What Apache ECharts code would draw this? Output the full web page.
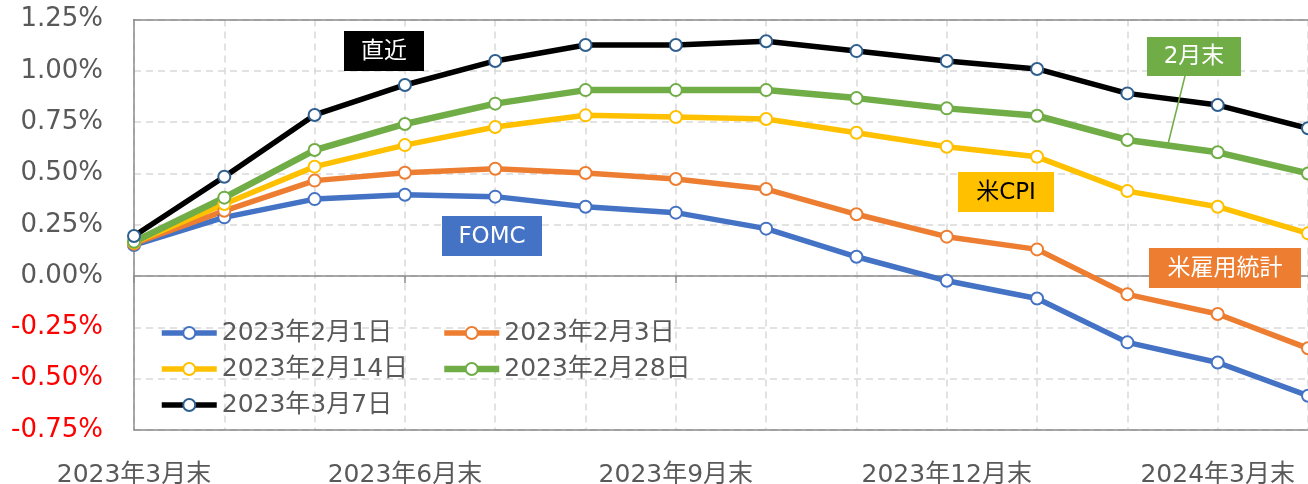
<!DOCTYPE html>
<html>
<head>
<meta charset="utf-8">
<script src="https://cdn.jsdelivr.net/npm/echarts@6/dist/echarts.min.js"></script>
<style>
  html, body { margin: 0; padding: 0; background: #fff; }
  #chart { width: 1308px; height: 484px; }
</style>
</head>
<body>
<div id="chart"></div>
<script>
// 月末ごとの政策金利変化の織り込み（%）
const months = [
  '2023年3月末', '2023年4月末', '2023年5月末', '2023年6月末', '2023年7月末',
  '2023年8月末', '2023年9月末', '2023年10月末', '2023年11月末', '2023年12月末',
  '2024年1月末', '2024年2月末', '2024年3月末', '2024年4月末'
]
const seriesNames = ['2023年2月1日', '2023年2月3日', '2023年2月14日', '2023年2月28日', '2023年3月7日']
const feb01 = [0.151, 0.286, 0.375, 0.396, 0.387, 0.338, 0.309, 0.231, 0.094, -0.023, -0.109, -0.323, -0.421, -0.583]
const feb03 = [0.158, 0.318, 0.465, 0.503, 0.523, 0.502, 0.473, 0.424, 0.301, 0.192, 0.130, -0.089, -0.185, -0.352]
const feb14 = [0.163, 0.351, 0.533, 0.638, 0.726, 0.783, 0.775, 0.765, 0.698, 0.630, 0.581, 0.414, 0.338, 0.208]
const feb28 = [0.167, 0.382, 0.614, 0.741, 0.840, 0.906, 0.906, 0.906, 0.867, 0.817, 0.781, 0.663, 0.603, 0.500]
const mar07 = [0.195, 0.484, 0.785, 0.931, 1.048, 1.126, 1.126, 1.144, 1.096, 1.048, 1.009, 0.890, 0.833, 0.720]
const yMin = -0.75, yMax = 1.25, yStep = 0.25

const FONT = '"DejaVu Sans", "Noto Sans CJK JP", sans-serif'
const GRAY = '#595959'
const AXIS = '#8c8c8c'
const COLORS = ['#4472c4', '#ed7d31', '#ffc000', '#70ad47', '#000000']
const WIDTHS = [5.5, 5.5, 5.5, 6.5, 5.5]
const BORDERS = ['#4472c4', '#ed7d31', '#ffc000', '#70ad47', '#2f5f8f']
const values = [feb01, feb03, feb14, feb28, mar07]

const chart = echarts.init(document.getElementById('chart'))

function mkSeries(i) {
  return {
    name: seriesNames[i], type: 'line', data: values[i],
    symbol: 'circle', symbolSize: 12,
    lineStyle: { width: WIDTHS[i], color: COLORS[i] },
    itemStyle: { color: '#fff', borderColor: BORDERS[i], borderWidth: 2 },
    emphasis: { disabled: true },
    z: 3
  }
}

function legendItem(i) {
  return {
    name: seriesNames[i],
    lineStyle: { width: WIDTHS[i], color: COLORS[i] },
    itemStyle: { color: '#fff', borderColor: BORDERS[i], borderWidth: 2 }
  }
}

// 注記ボックス
function note(x, y, w, h, text, bg, fg) {
  return {
    type: 'group', x, y,
    children: [
      { type: 'rect', z: 100, shape: { x: 0, y: 0, width: w, height: h }, style: { fill: bg } },
      { type: 'text', z: 101, x: w / 2, y: h / 2 + 1, style: { text, fill: fg, font: '23px ' + FONT, align: 'center', verticalAlign: 'middle' } }
    ]
  }
}

const legendBase = {
  orient: 'vertical', padding: 0, itemGap: 6, itemWidth: 55, itemHeight: 15,
  selectedMode: false,
  textStyle: { color: GRAY, fontSize: 25, fontFamily: FONT, lineHeight: 30 }
}

chart.setOption({
  animation: false,
  grid: { left: 134, right: 0, top: 19.5, bottom: 54, outerBoundsMode: 'none' },
  legend: [
    Object.assign({}, legendBase, { left: 159, top: 318, data: [legendItem(0), legendItem(2), legendItem(4)] }),
    Object.assign({}, legendBase, { left: 441, top: 318, data: [legendItem(1), legendItem(3)] })
  ],
  xAxis: [
    { // ゼロ線
      type: 'category', data: months, boundaryGap: false,
      axisLine: { onZero: true, lineStyle: { color: AXIS, width: 1.5 } },
      axisTick: { show: true, interval: 2, length: 7, lineStyle: { color: AXIS, width: 1.5 } },
      axisLabel: { show: false }, splitLine: { show: false }
    },
    { // 下端ラベル
      type: 'category', data: months, boundaryGap: false, position: 'bottom',
      axisLine: { onZero: false, lineStyle: { color: AXIS, width: 1.5 } },
      axisTick: { show: false },
      axisLabel: { interval: 2, color: GRAY, fontSize: 25, fontFamily: FONT, margin: 33 },
      splitLine: { show: true, interval: 0, lineStyle: { color: '#d9d9d9', width: 1.5, type: [7, 5] } }
    },
    { // 上枠
      type: 'category', data: months, boundaryGap: false, position: 'top',
      axisLine: { onZero: false, lineStyle: { color: AXIS, width: 1.5 } },
      axisTick: { show: false }, axisLabel: { show: false }, splitLine: { show: false }
    }
  ],
  yAxis: {
    type: 'value', min: yMin, max: yMax, interval: yStep,
    axisLine: { show: true, lineStyle: { color: AXIS, width: 1.5 } },
    axisTick: { show: false },
    axisLabel: {
      fontSize: 26, fontFamily: FONT, margin: 31,
      color: (v) => (Number(v) < -1e-9 ? '#ff0000' : GRAY),
      formatter: (v) => v.toFixed(2) + '%'
    },
    splitLine: { lineStyle: { color: '#d9d9d9', width: 1.5, type: [7, 5] } }
  },
  series: [0, 1, 2, 3, 4].map(mkSeries),
  graphic: [
    note(344, 31, 80, 40, '直近', '#000000', '#ffffff'),
    note(442, 216, 100, 40, 'FOMC', '#4472c4', '#ffffff'),
    note(958, 172, 96, 40, '米CPI', '#ffc000', '#000000'),
    { type: 'line', z: 99, shape: { x1: 1185, y1: 76, x2: 1168, y2: 144 }, style: { stroke: '#70ad47', lineWidth: 1.5 } },
    note(1147, 37, 94, 39, '2月末', '#70ad47', '#ffffff'),
    note(1149, 248, 152, 40, '米雇用統計', '#ed7d31', '#ffffff')
  ]
})
</script>
</body>
</html>
